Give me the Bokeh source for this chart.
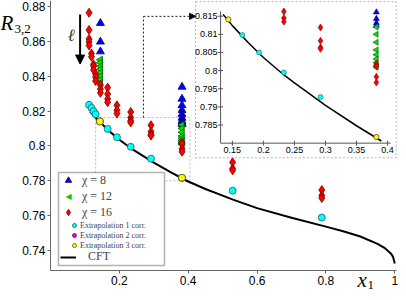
import math
from bokeh.plotting import figure
from bokeh.models import (Range1d, Legend, LegendItem, Label, Arrow, NormalHead,
                          BoxAnnotation, FixedTicker, NumeralTickFormatter)
from bokeh.core.properties import value
from bokeh.embed import file_html
from bokeh.resources import INLINE

# ---------------- data ----------------
chi8_x = [0.145, 0.145, 0.145, 0.382, 0.382, 0.382, 0.382, 0.382, 0.382, 0.382, 0.382, 0.382]
chi8_y = [0.8705, 0.8598, 0.8542, 0.8339, 0.8270, 0.8233, 0.8205, 0.8182, 0.8161, 0.8143, 0.8131, 0.8124]

chi12_x = [0.145] * 8 + [0.382] * 9
chi12_y = [0.8495, 0.8478, 0.8458, 0.8440, 0.8420, 0.8400, 0.8380, 0.8362,
           0.8120, 0.8100, 0.8078, 0.8057, 0.8044, 0.8032, 0.8022, 0.8013, 0.8009]

chi16_x = [0.112] * 5 + [0.119] * 2 + [0.125] * 3 + [0.131] * 3 + [0.145] * 3 + [0.166] * 4 + \
          [0.193] * 3 + [0.233] * 4 + [0.292] * 4 + [0.382] * 4 + [0.529] * 3 + [0.788] * 3
chi16_y = [0.8765, 0.8666, 0.8614, 0.8597, 0.8577,
           0.8531, 0.8512,
           0.8469, 0.8458, 0.8437,
           0.8413, 0.8396, 0.8373,
           0.8350, 0.8327, 0.8305,
           0.8335, 0.8298, 0.8270, 0.8251,
           0.8233, 0.8205, 0.8186,
           0.8195, 0.8163, 0.8145, 0.8135,
           0.8119, 0.8082, 0.8064, 0.8060,
           0.8018, 0.8012, 0.7983, 0.7967,
           0.7906, 0.7870, 0.7860,
           0.7747, 0.7715, 0.7701]

ext1_x = [0.112, 0.119, 0.125, 0.131, 0.166, 0.193, 0.233, 0.292, 0.529, 0.788]
ext1_y = [0.8236, 0.8219, 0.8199, 0.8182, 0.8098, 0.8050, 0.7995, 0.7927, 0.7743, 0.7589]

# extrapolation 2 lies underneath extrapolation 3 (hidden in the picture)
ext2_x = [0.1435, 0.382]
ext2_y = [0.8141, 0.7817]

ext3_x = [0.1435, 0.382]
ext3_y = [0.8141, 0.7817]
ext3_err = [0.0007, 0.0007]

cft_x = [0.115, 0.125, 0.135, 0.15, 0.175, 0.2, 0.233, 0.25, 0.3, 0.35, 0.39, 0.4, 0.45,
         0.5, 0.53, 0.6, 0.7, 0.8, 0.85, 0.9, 0.95, 0.97, 0.99, 0.995, 1.0]
cft_y = [0.8198, 0.8176, 0.8155, 0.8124, 0.8078, 0.8036, 0.7988, 0.7966, 0.7904, 0.7848,
         0.7806, 0.7796, 0.7753, 0.7715, 0.7692, 0.7643, 0.7588, 0.7537, 0.7510, 0.7480,
         0.7438, 0.7415, 0.7380, 0.7362, 0.7325]

x_ticks = [0.2, 0.4, 0.6, 0.8, 1.0]
y_ticks = [0.74, 0.76, 0.78, 0.80, 0.82, 0.84, 0.86, 0.88]

inset_x_range = (0.131, 0.405)
inset_y_range = (0.7800, 0.8163)
inset_x_ticks = [0.15, 0.2, 0.25, 0.3, 0.35, 0.4]
inset_x_labels = ["0.15", "0.2", "0.25", "0.3", "0.35", "0.4"]
inset_y_ticks = [0.785, 0.79, 0.795, 0.8, 0.805, 0.81, 0.815]
inset_y_labels = ["0.785", "0.79", "0.795", "0.8", "0.805", "0.81", "0.815"]

# ---------------- layout constants ----------------
W, H = 398, 292
AX_L, AX_R, AX_T, AX_B = 50, 396, 0, 270          # axes box inside the canvas (px)
data_x = (0.0, 1.005)
data_y = (0.7285, 0.8835)
kx = (AX_R - AX_L) / (data_x[1] - data_x[0])
ky = (AX_B - AX_T) / (data_y[1] - data_y[0])
main_x_range = (data_x[0] - AX_L / kx, data_x[1] + (W - AX_R) / kx)
main_y_range = (data_y[0] - (H - AX_B) / ky, data_y[1] + AX_T / ky)
OFF_X, OFF_Y = AX_L, H - AX_B                      # screen offsets of the axes corner

inset_axes_box = (0.494, 0.988, 0.8016, 0.8772)    # left, right, bottom, top (main coords)
inset_outer_box = (0.4215, 1.004, 0.7932, 0.8828)
connector_x = 0.27
connector_y = 0.8744

SANS = "Liberation Sans"
SERIF = "Liberation Serif"

p = figure(width=W, height=H, output_backend="svg", toolbar_location=None,
           x_range=Range1d(*main_x_range), y_range=Range1d(*main_y_range),
           min_border_left=0, min_border_right=0, min_border_top=0, min_border_bottom=0)
p.outline_line_color = None
p.grid.visible = False
p.background_fill_color = "white"

p.xaxis.fixed_location = data_y[0]
p.yaxis.fixed_location = data_x[0]
p.xaxis.bounds = data_x
p.yaxis.bounds = data_y
for ax, ticks in ((p.xaxis, x_ticks), (p.yaxis, y_ticks)):
    ax.ticker = FixedTicker(ticks=ticks)
    ax.formatter = NumeralTickFormatter(format="0.[00]")
    ax.major_label_text_font = SANS
    ax.major_label_text_font_size = "12px"
    ax.major_label_text_color = "black"
    ax.axis_line_color = "#666666"
    ax.major_tick_line_color = "#666666"
    ax.minor_tick_line_color = None
    ax.major_tick_out = 3
    ax.major_tick_in = 0
    ax.major_label_standoff = 2

# inset outer dashed frame (white background, under glyphs)
ob = inset_outer_box
p.add_layout(BoxAnnotation(left=ob[0], right=ob[1], bottom=ob[2], top=ob[3],
                           fill_color="white", fill_alpha=1.0, line_color="black",
                           line_width=1, line_dash="2 2", level="underlay"))

# ---------------- main plot ----------------
r_cft = p.line(cft_x, cft_y, line_color="black", line_width=2, line_join="round")
r8 = p.scatter(chi8_x, chi8_y, marker="triangle", size=8, fill_color="#0000ff", line_color="#00007a", line_width=0.8)
r12 = p.scatter(chi12_x, chi12_y, marker="triangle", angle=math.pi / 2, size=7, fill_color="#00e600", line_color="#005a00", line_width=0.8)
r16 = p.scatter(chi16_x, chi16_y, marker="diamond", size=9, fill_color="#ff0000", line_color="#7a0000", line_width=0.8)
re1 = p.scatter(ext1_x, ext1_y, marker="circle", size=7, fill_color="#00ffff", line_color="#1d5f6a", line_width=0.8)
re2 = p.scatter(ext2_x, ext2_y, marker="circle", size=7, fill_color="#ff00ff", line_color="#5a005a", line_width=0.8)
re3 = p.scatter(ext3_x, ext3_y, marker="circle", size=7, fill_color="#ffff00", line_color="#5a5a00", line_width=0.8)
r12_key = p.scatter([], [], marker="triangle", size=7, fill_color="#00e600")  # legend row only

# zoom rectangle and connector arrow
p.add_layout(BoxAnnotation(left=inset_x_range[0], right=inset_x_range[1],
                           bottom=inset_y_range[0], top=inset_y_range[1],
                           fill_alpha=0, line_color="#222222", line_width=1, line_dash="2 2"))
p.segment(x0=[connector_x], y0=[inset_y_range[1]], x1=[connector_x], y1=[connector_y],
          line_color="#222222", line_width=1, line_dash="2 2")
p.add_layout(Arrow(x_start=connector_x, y_start=connector_y, x_end=ob[0], y_end=connector_y,
                   line_color="#222222", line_width=1, line_dash="2 2",
                   end=NormalHead(size=6, fill_color="black", line_color="black")))

# ell arrow
p.add_layout(Arrow(x_start=0.086, y_start=0.8755, x_end=0.086, y_end=0.8470, line_width=2,
                   line_color="black", end=NormalHead(size=9, fill_color="black", line_color="black")))
p.add_layout(Label(x=0.050, y=0.8635, text="ℓ", text_font="DejaVu Serif", text_font_style="italic",
                   text_font_size="17px", text_baseline="middle", text_color="#333333"))

# axis titles
p.add_layout(Label(x=0.0, y=0.8705, x_offset=-50, text="R", text_font=SERIF, text_font_style="italic",
                   text_font_size="21px", text_baseline="middle", text_color="black"))
p.add_layout(Label(x=0.0, y=0.8670, x_offset=-36, text="3,2", text_font=SERIF,
                   text_font_size="13px", text_baseline="middle", text_color="black"))
p.add_layout(Label(x=0.892, y=data_y[0], y_offset=-9, text="x", text_font=SERIF,
                   text_font_style="italic", text_font_size="21px", text_baseline="middle",
                   text_color="black"))
p.add_layout(Label(x=0.921, y=data_y[0], y_offset=-14, text="1", text_font=SERIF,
                   text_font_size="13px", text_baseline="middle", text_color="black"))

# ---------------- inset (extra ranges mapped onto the inset box) ----------------
def mapped_range(main_r, a0, a1, i0, i1):
    k = (i1 - i0) / (a1 - a0)
    return Range1d(start=i0 + (main_r[0] - a0) * k, end=i0 + (main_r[1] - a0) * k)

ab = inset_axes_box
p.extra_x_ranges = {"ix": mapped_range(main_x_range, ab[0], ab[1], *inset_x_range)}
p.extra_y_ranges = {"iy": mapped_range(main_y_range, ab[2], ab[3], *inset_y_range)}
IN = dict(x_range_name="ix", y_range_name="iy")

def inside(xs, ys, tol=0.0003):
    sel = [(x, y) for x, y in zip(xs, ys)
           if inset_x_range[0] <= x <= inset_x_range[1] and inset_y_range[0] <= y <= inset_y_range[1] + tol]
    return [s[0] for s in sel], [s[1] for s in sel]

ix0, ix1 = inset_x_range
iy0, iy1 = inset_y_range
p.segment(x0=[ix0, ix0], y0=[iy0, iy0], x1=[ix0, ix1], y1=[iy1, iy0], line_color="#555555", line_width=1, **IN)
p.scatter([ix0] * len(inset_y_ticks), inset_y_ticks, marker="dash", size=5, line_color="#555555", **IN)
p.scatter(inset_x_ticks, [iy0] * len(inset_x_ticks), marker="dash", angle=math.pi / 2, size=5, line_color="#555555", **IN)
p.text(x=[ix0] * len(inset_y_ticks), y=inset_y_ticks, text=inset_y_labels, x_offset=-3,
       text_align="right", text_baseline="middle", text_font=value(SANS),
       text_font_size=value("9px"), text_color="black", **IN)
p.text(x=inset_x_ticks, y=[iy0] * len(inset_x_ticks), text=inset_x_labels, y_offset=4,
       text_align="center", text_baseline="top", text_font=value(SANS),
       text_font_size=value("9px"), text_color="black", **IN)

cx = [x for x, y in zip(cft_x, cft_y) if ix0 <= x <= ix1 and y >= iy0]
cy = [y for x, y in zip(cft_x, cft_y) if ix0 <= x <= ix1 and y >= iy0]
p.line(cx, cy, line_color="black", line_width=1.5, **IN)

x_, y_ = inside(chi8_x, chi8_y)
p.scatter(x_, y_, marker="triangle", size=6, fill_color="#0000ff", line_color="#00007a", line_width=0.6, **IN)
x_, y_ = inside(chi12_x, chi12_y)
p.scatter(x_, y_, marker="triangle", angle=math.pi / 2, size=6, fill_color="#00e600", line_color="#005a00", line_width=0.6, **IN)
x_, y_ = inside(chi16_x, chi16_y)
p.scatter(x_, y_, marker="diamond", size=7, fill_color="#ff0000", line_color="#7a0000", line_width=0.6, **IN)
x_, y_ = inside(ext1_x, ext1_y)
p.scatter(x_, y_, marker="circle", size=5, fill_color="#00ffff", line_color="#1d5f6a", line_width=0.6, **IN)
p.segment(x0=ext3_x, y0=[y - e for y, e in zip(ext3_y, ext3_err)], x1=ext3_x,
          y1=[y + e for y, e in zip(ext3_y, ext3_err)], line_color="#777777", line_width=1, **IN)
x_, y_ = inside(ext2_x, ext2_y)
p.scatter(x_, y_, marker="circle", size=5, fill_color="#ff00ff", line_color="#5a005a", line_width=0.6, **IN)
p.scatter(ext3_x, ext3_y, marker="circle", size=5, fill_color="#ffff00", line_color="#5a5a00", line_width=0.6, **IN)

# ---------------- legend (box + three groups) ----------------
p.add_layout(BoxAnnotation(left=OFF_X + 8, right=OFF_X + 114, bottom=OFF_Y + 5, top=OFF_Y + 98,
                           left_units="screen", right_units="screen",
                           bottom_units="screen", top_units="screen", fill_color="white", fill_alpha=1.0,
                           line_color="black", line_width=1.5))

leg_a = Legend(items=[LegendItem(label="χ = 8", renderers=[r8]),
                      LegendItem(label="χ = 12", renderers=[r12_key]),
                      LegendItem(label="χ = 16", renderers=[r16])],
               location=(OFF_X + 10, OFF_Y + 50), glyph_width=16, glyph_height=16, label_height=16, spacing=0,
               padding=0, margin=0, label_standoff=6, label_text_font=SERIF,
               label_text_font_size="12px", border_line_color=None, background_fill_alpha=0)
leg_b = Legend(items=[LegendItem(label="Extrapolation 1 corr.", renderers=[re1]),
                      LegendItem(label="Extrapolation 2 corr.", renderers=[re2]),
                      LegendItem(label="Extrapolation 3 corr.", renderers=[re3])],
               location=(OFF_X + 19, OFF_Y + 20), glyph_width=10, glyph_height=10, label_height=10, spacing=0,
               padding=0, margin=0, label_standoff=1, label_text_font=SERIF,
               label_text_font_size="8px", border_line_color=None, background_fill_alpha=0)
leg_c = Legend(items=[LegendItem(label="CFT", renderers=[r_cft])],
               location=(OFF_X + 10, OFF_Y + 6), glyph_width=16, glyph_height=12, label_height=12, spacing=0,
               padding=0, margin=0, label_standoff=12, label_text_font=SERIF,
               label_text_font_size="12px", border_line_color=None, background_fill_alpha=0)
for lg in (leg_a, leg_b, leg_c):
    p.add_layout(lg)
# left-pointing key for chi = 12
p.add_layout(Label(x=OFF_X + 18, y=OFF_Y + 74, x_units="screen", y_units="screen", text="◀",
                   text_font="DejaVu Sans", text_font_size="8px", text_color="#00d000",
                   text_align="center", text_baseline="middle"))

open("out.html", "w").write(file_html(p, INLINE))
